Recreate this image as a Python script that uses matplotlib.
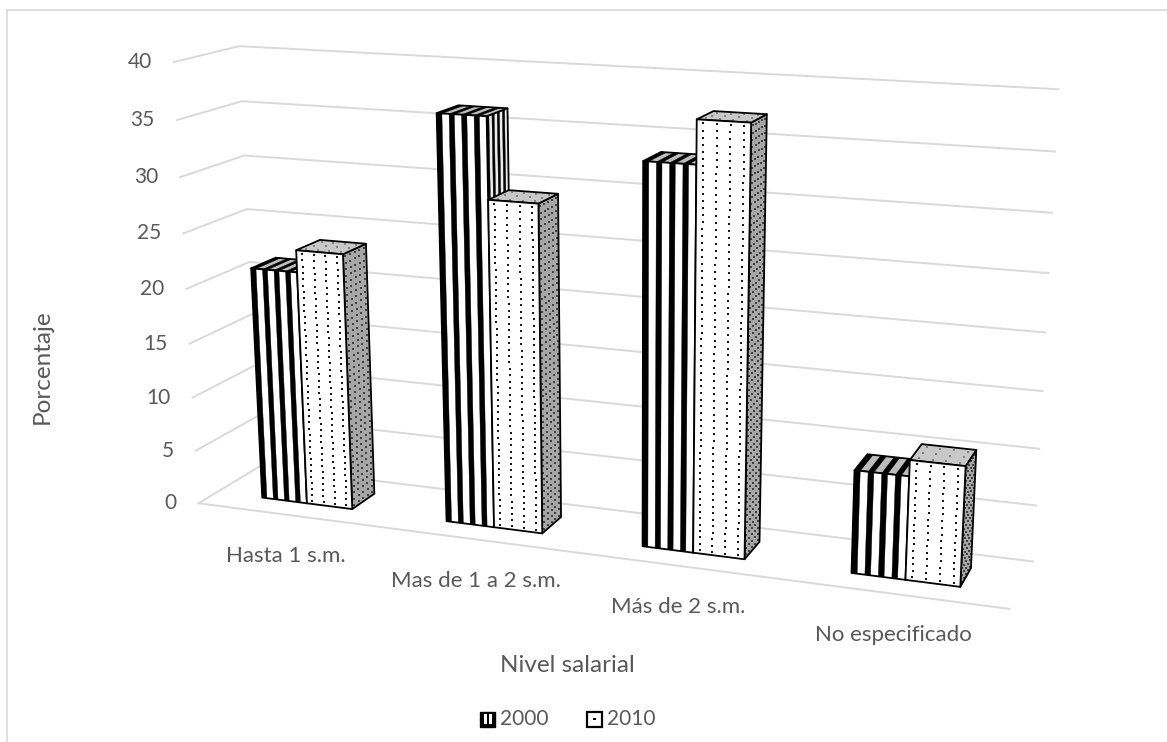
import numpy as np
import matplotlib
matplotlib.use("Agg")
import matplotlib.pyplot as plt
from matplotlib.patches import Polygon, Rectangle

plt.rcParams['font.family'] = ['Lato', 'DejaVu Sans']

# ---------------------------------------------------------------- data
categories = ["Hasta 1 s.m.", "Mas de 1 a 2 s.m.", "Más de 2 s.m.", "No especificado"]
years = ["2000", "2010"]
pct_2000 = [21.5, 36.4, 33.5, 9.0]
pct_2010 = [23.5, 29.3, 37.2, 10.4]
value_ticks = [0, 5, 10, 15, 20, 25, 30, 35, 40]
value_title = "Porcentaje"
category_title = "Nivel salarial"

# ---------------------------------------------------------------- layout
W, H, DPI = 1167, 742, 100
ZMAX = 40.0
TEXT = '#595959'
GRID = '#d9d9d9'

# plot box (x across, depth, value) and its place on the canvas in pixels
BOX_CORNERS = [
    ((0, 0, 40), (174, 62)),
    ((0, 0, 35), (177, 120)),
    ((0, 0, 20), (187, 290)),
    ((0, 0, 5), (195, 451)),
    ((0, 0, 0), (198, 503)),
    ((0, 1, 40), (239, 46)),
    ((0, 1, 35), (241, 101)),
    ((0, 1, 20), (250, 262)),
    ((0, 1, 0), (260, 466)),
    ((1, 1, 40), (1058, 89)),
    ((1, 1, 35), (1055, 151)),
    ((1, 1, 30), (1052, 213)),
    ((1, 1, 20), (1046, 333)),
    ((1, 1, 10), (1039, 449)),
    ((1, 1, 0), (1033, 562)),
    ((1, 0, 0), (1010, 608)),
]

BAR_W = 0.062          # width of one bar along the category axis
DEPTH = (0.30, 0.70)   # front / back of the bar row
N_STRIPES = 4
STRIPE_DUTY = 0.42
DOT_STEP = 0.58        # value units between dot rows
DOT_COLS = 4


def solve_camera(corners):
    rows = []
    for (X, Y, Z), (u, v) in corners:
        Zn = Z / ZMAX
        u, v = u / 1000.0, v / 1000.0
        rows.append([X, Y, Zn, 1, 0, 0, 0, 0, -u * X, -u * Y, -u * Zn, -u])
        rows.append([0, 0, 0, 0, X, Y, Zn, 1, -v * X, -v * Y, -v * Zn, -v])
    _, _, vt = np.linalg.svd(np.array(rows, float))
    return vt[-1].reshape(3, 4)


CAM = solve_camera(BOX_CORNERS)


def project(pts):
    pts = np.atleast_2d(np.asarray(pts, float))
    hom = np.column_stack([pts[:, 0], pts[:, 1], pts[:, 2] / ZMAX, np.ones(len(pts))])
    p = hom @ CAM.T
    return np.column_stack([p[:, 0] / p[:, 2], p[:, 1] / p[:, 2]]) * 1000.0


def face_point(quad, s, t):
    c00, c10, c11, c01 = [np.array(c, float) for c in quad]
    s = np.asarray(s, float)[..., None]
    t = np.asarray(t, float)[..., None]
    return (1 - s) * (1 - t) * c00 + s * (1 - t) * c10 + s * t * c11 + (1 - s) * t * c01


def bar_faces(x0, x1, y0, y1, h):
    front = [(x0, y0, 0), (x1, y0, 0), (x1, y0, h), (x0, y0, h)]
    right = [(x1, y0, 0), (x1, y1, 0), (x1, y1, h), (x1, y0, h)]
    top = [(x0, y0, h), (x1, y0, h), (x1, y1, h), (x0, y1, h)]
    return front, right, top


fig = plt.figure(figsize=(W / DPI, H / DPI), dpi=DPI)
ax = fig.add_axes([0, 0, 1, 1])
ax.set_xlim(0, W)
ax.set_ylim(H, 0)
ax.axis('off')

# chart area outline
ax.plot([7, 7], [10, H + 5], color=GRID, lw=1.2, zorder=0)
ax.plot([7, W + 5], [10, 10], color=GRID, lw=1.2, zorder=0)

# walls: side-wall and back-wall gridlines, floor front edge
for z in value_ticks:
    pts = project([(0, 0, z), (0, 1, z), (1, 1, z)])
    ax.plot(pts[:, 0], pts[:, 1], color=GRID, lw=1.4, zorder=1,
            solid_joinstyle='miter')
    lab = project([(0, 0, z)])[0]
    ax.text(lab[0] - 22, lab[1], f"{z}", ha='right', va='center',
            fontsize=15, color=TEXT)
floor = project([(0, 0, 0), (1, 0, 0)])
ax.plot(floor[:, 0], floor[:, 1], color=GRID, lw=1.4, zorder=1)

zo = [2]


def next_z():
    zo[0] += 1
    return zo[0]


def draw_quad(quad, color):
    p = project(quad)
    ax.add_patch(Polygon(p, closed=True, facecolor=color, edgecolor='none',
                         zorder=next_z()))


def outline(quad):
    p = project(quad)
    ax.add_patch(Polygon(p, closed=True, facecolor='none', edgecolor='black',
                         lw=1.3, joinstyle='round', zorder=next_z()))


def stripes(quad, base):
    draw_quad(quad, base)
    z = next_z()
    for k in range(N_STRIPES):
        s0 = k / N_STRIPES
        s1 = (k + STRIPE_DUTY) / N_STRIPES
        corners = face_point(quad, [s0, s1, s1, s0], [0, 0, 1, 1])
        p = project(corners)
        ax.add_patch(Polygon(p, closed=True, facecolor='black', edgecolor='black',
                             lw=0.3, zorder=z))
    outline(quad)


def dots(quad, base, dot_color, rows, cols=DOT_COLS, size=3.0):
    draw_quad(quad, base)
    s = (np.arange(cols) + 0.5) / cols
    t = (np.arange(rows) + 0.5) / rows
    ss, tt = np.meshgrid(s, t)
    p = project(face_point(quad, ss.ravel(), tt.ravel()))
    ax.scatter(p[:, 0], p[:, 1], s=size, marker='s', color=dot_color,
               linewidths=0, zorder=next_z())
    outline(quad)


n_cat = len(categories)
for i in range(n_cat):
    xc = (i + 0.5) / n_cat
    # 2000: vertical stripes
    h = pct_2000[i]
    front, right, top = bar_faces(xc - BAR_W, xc, DEPTH[0], DEPTH[1], h)
    stripes(right, '#ececec')
    stripes(top, '#bdbdbd')
    stripes(front, 'white')
    # 2010: dotted
    h = pct_2010[i]
    front, right, top = bar_faces(xc, xc + BAR_W, DEPTH[0], DEPTH[1], h)
    rows = max(1, int(round(h / DOT_STEP)))
    dots(right, '#a6a6a6', '#404040', rows, cols=5, size=2.2)
    dots(top, '#c8c8c8', '#808080', 3, size=2.2)
    dots(front, 'white', '#1a1a1a', rows)

    lab = project([(xc, 0, 0)])[0]
    ax.text(lab[0] - 3, lab[1] + 41, categories[i], ha='center', va='center',
            fontsize=16, color=TEXT)

# axis titles
ax.text(42, 367, value_title, rotation=90, ha='center', va='center',
        fontsize=17.5, color=TEXT)
ax.text(567, 666, category_title, ha='center', va='center',
        fontsize=17.5, color=TEXT)

# legend
LEG_Y = 719
ICON = 15
leg_x = [480, 587]
# striped swatch
ax.add_patch(Rectangle((leg_x[0], LEG_Y - ICON / 2), ICON, ICON,
                       facecolor='black', edgecolor='black', lw=1, zorder=50))
for off in (4, 9):
    ax.add_patch(Rectangle((leg_x[0] + off, LEG_Y - ICON / 2 + 2.5), 2.5, ICON - 5,
                           facecolor='white', edgecolor='none', zorder=51))
# dotted swatch
ax.add_patch(Rectangle((leg_x[1], LEG_Y - ICON / 2), ICON, ICON,
                       facecolor='white', edgecolor='black', lw=1.6, zorder=50))
ax.add_patch(Rectangle((leg_x[1] + ICON / 2 - 1.2, LEG_Y - 1.2), 2.4, 2.4,
                       facecolor='black', edgecolor='none', zorder=51))
for x, name in zip(leg_x, years):
    ax.text(x + ICON + 5, LEG_Y, name, ha='left', va='center',
            fontsize=15, color=TEXT)

fig.savefig('out.png', dpi=DPI)
